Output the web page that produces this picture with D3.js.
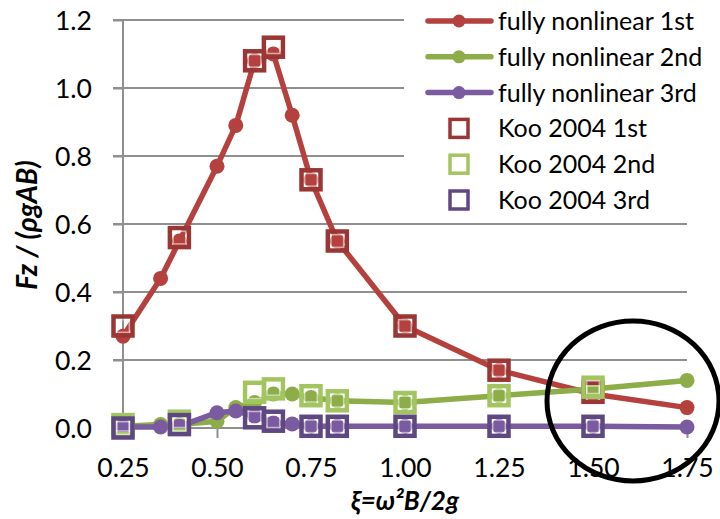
<!DOCTYPE html>
<html>
<head>
<meta charset="utf-8">
<script src="https://cdn.jsdelivr.net/npm/d3@7"></script>
<style>
  body { margin: 0; background: #fff; }
  svg { display: block; font-family: Lato, "Open Sans", sans-serif; }
</style>
</head>
<body>
<svg id="chart" width="720" height="519"></svg>
<script>
// fully nonlinear results
const xi = [0.25, 0.35, 0.40, 0.50, 0.55, 0.60, 0.65, 0.70, 0.75, 0.82, 1.00, 1.25, 1.50, 1.75]
const fnl1st = [0.27, 0.44, 0.55, 0.77, 0.89, 1.08, 1.10, 0.92, 0.73, 0.55, 0.30, 0.17, 0.10, 0.06]
const fnl2nd = [0.005, 0.01, 0.01, 0.02, 0.06, 0.075, 0.10, 0.10, 0.09, 0.08, 0.075, 0.095, 0.115, 0.14]
const fnl3rd = [0.003, 0.003, 0.005, 0.045, 0.05, 0.035, 0.015, 0.012, 0.006, 0.005, 0.005, 0.005, 0.005, 0.003]

// Koo 2004
const kooXi = [0.25, 0.40, 0.60, 0.65, 0.75, 0.82, 1.00, 1.25, 1.50]
const koo1st = [0.30, 0.56, 1.08, 1.12, 0.73, 0.55, 0.30, 0.17, 0.105]
const koo2nd = [0.01, 0.02, 0.105, 0.115, 0.095, 0.08, 0.075, 0.095, 0.12]
const koo3rd = [0.0, 0.01, 0.03, 0.02, 0.005, 0.005, 0.005, 0.005, 0.005]

const xTicks = [0.25, 0.50, 0.75, 1.00, 1.25, 1.50, 1.75]
const yTicks = [0.0, 0.2, 0.4, 0.6, 0.8, 1.0, 1.2]

const lineSeries = [
    { name: "fully nonlinear 1st", values: fnl1st, color: "#b4413e" },
    { name: "fully nonlinear 2nd", values: fnl2nd, color: "#8dad48" },
    { name: "fully nonlinear 3rd", values: fnl3rd, color: "#7a5b9f" },
]
const kooSeries = [
    { name: "Koo 2004 1st", values: koo1st, color: "#9a3633" },
    { name: "Koo 2004 2nd", values: koo2nd, color: "#a3c560" },
    { name: "Koo 2004 3rd", values: koo3rd, color: "#5f4882" },
]

const svg = d3.select("#chart")
const x = d3.scaleLinear().domain([0.25, 1.75]).range([123, 687])
const y = d3.scaleLinear().domain([0, 1.2]).range([428, 20])
const grid = "#8f8f8f"

// gridlines
svg.append("g").selectAll("line")
    .data(yTicks.slice(1))
    .enter().append("line")
    .attr("x1", x(0.25) - 10).attr("x2", x(1.75))
    .attr("y1", d => y(d)).attr("y2", d => y(d))
    .attr("stroke", grid).attr("stroke-width", 2)

// axes
const yAxis = svg.append("g").attr("transform", "translate(" + x(0.25) + ",0)")
    .call(d3.axisLeft(y).tickValues(yTicks).tickSize(10).tickFormat(d3.format(".1f")))
const xAxis = svg.append("g").attr("transform", "translate(0," + y(0) + ")")
    .call(d3.axisBottom(x).tickValues(xTicks).tickSize(10).tickFormat(d3.format(".2f")))

;[yAxis, xAxis].forEach(a => {
    a.select(".domain").attr("stroke", grid).attr("stroke-width", 2)
    a.selectAll(".tick line").attr("stroke", grid).attr("stroke-width", 2)
    a.selectAll("text").attr("fill", "#000").style("font-size", "26.5px")
        .style("font-family", "Lato, 'Open Sans', sans-serif")
})
yAxis.selectAll("text").attr("x", -31).attr("dy", "0.36em")
xAxis.selectAll("text").attr("y", 49).attr("dy", 0)
yAxis.select(".domain").attr("d", "M0," + y(1.2) + "V" + y(0))
xAxis.select(".domain").attr("d", "M" + x(0.25) + ",0H" + x(1.75))

// lines + circles
const line = d3.line().x((d, i) => x(xi[i])).y(d => y(d))
lineSeries.forEach(s => {
    const g = svg.append("g")
    g.append("path").datum(s.values)
        .attr("d", line)
        .attr("fill", "none").attr("stroke", s.color)
        .attr("stroke-width", 5.5).attr("stroke-linejoin", "round")
    g.selectAll("circle").data(s.values).enter().append("circle")
        .attr("cx", (d, i) => x(xi[i])).attr("cy", d => y(d))
        .attr("r", 7.5).attr("fill", s.color)
})

// Koo squares
const sq = 19
kooSeries.forEach(s => {
    const g = svg.append("g")
    const pts = g.selectAll("g").data(s.values).enter().append("g")
        .attr("transform", (d, i) => "translate(" + x(kooXi[i]) + "," + y(d) + ")")
    pts.append("rect")
        .attr("x", -sq / 2).attr("y", -sq / 2).attr("width", sq).attr("height", sq)
        .attr("fill", "none").attr("stroke", s.color).attr("stroke-width", 4.5)
    pts.append("rect")
        .attr("x", -sq / 2 + 3.2).attr("y", -sq / 2 + 3.2).attr("width", sq - 6.4).attr("height", sq - 6.4)
        .attr("fill", "none").attr("stroke", "#fff").attr("stroke-opacity", 0.55).attr("stroke-width", 1.5)
})

// legend
const legend = svg.append("g")
legend.append("rect").attr("x", 404).attr("y", 0).attr("width", 316).attr("height", 214).attr("fill", "#fff")
const rowY = i => 21 + i * 35.8
lineSeries.forEach((s, i) => {
    legend.append("line").attr("x1", 428).attr("x2", 491).attr("y1", rowY(i)).attr("y2", rowY(i))
        .attr("stroke", s.color).attr("stroke-width", 5.5).attr("stroke-linecap", "round")
    legend.append("circle").attr("cx", 459).attr("cy", rowY(i)).attr("r", 6.5).attr("fill", s.color)
})
kooSeries.forEach((s, i) => {
    legend.append("rect").attr("x", 459 - 9).attr("y", rowY(i + 3) - 9).attr("width", 18).attr("height", 18)
        .attr("fill", "#fff").attr("stroke", s.color).attr("stroke-width", 3.5)
})
legend.selectAll("text").data(lineSeries.concat(kooSeries)).enter().append("text")
    .attr("x", 498).attr("y", (d, i) => rowY(i)).attr("dy", "0.36em")
    .style("font-size", "25px").attr("fill", "#000")
    .text(d => d.name)

// axis titles
svg.append("text").attr("x", 405).attr("y", 510).attr("text-anchor", "middle")
    .style("font-size", "26px").style("font-weight", "bold").style("font-style", "italic")
    .text("ξ=ω²B/2g")
svg.append("text").attr("transform", "translate(37,225) rotate(-90)").attr("text-anchor", "middle")
    .style("font-size", "28px").style("font-weight", "bold").style("font-style", "italic")
    .text("Fz / (ρgAB)")

// highlight circle
svg.append("ellipse").attr("cx", 633).attr("cy", 401).attr("rx", 86).attr("ry", 80)
    .attr("fill", "none").attr("stroke", "#000").attr("stroke-width", 5)
</script>
</body>
</html>
